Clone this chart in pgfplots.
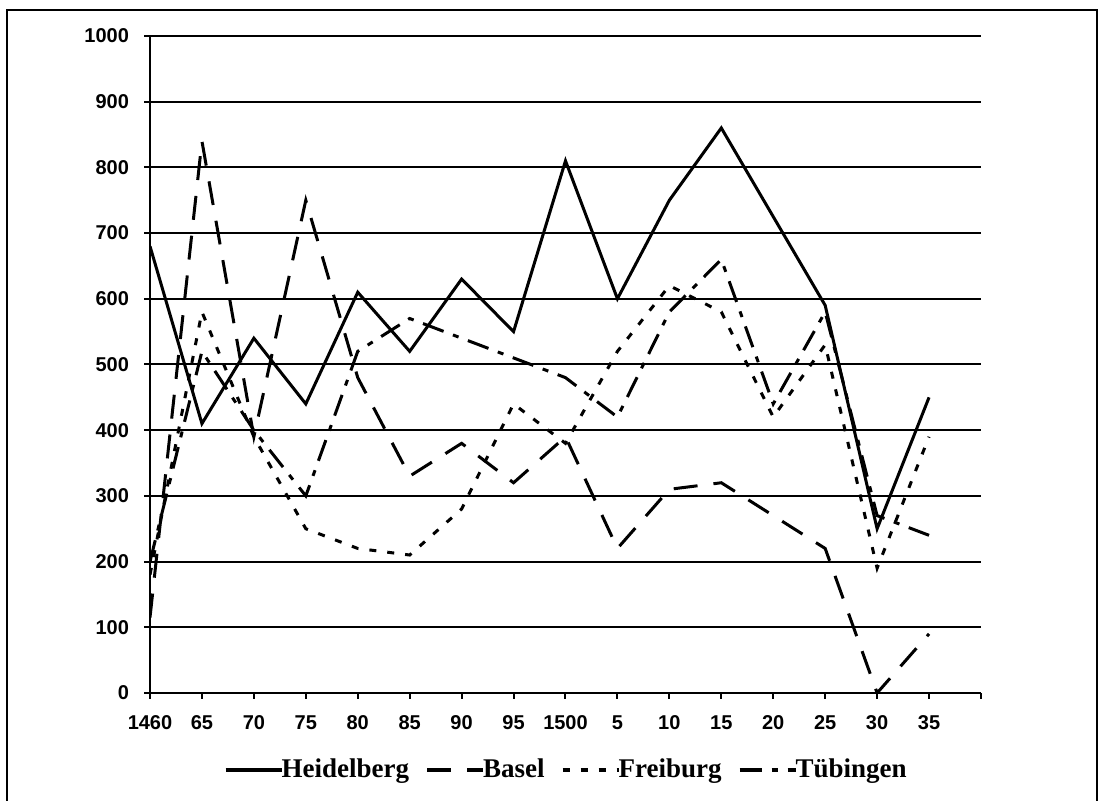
\documentclass[border=0pt]{standalone}
\usepackage{fontspec}
\setmainfont{Liberation Serif}
\setsansfont{Liberation Sans}
\usepackage{pgfplots}
\pgfplotsset{compat=1.18}
\begin{document}
\begin{tikzpicture}
\path[use as bounding box] (-75pt,-54pt) rectangle (475.5pt,346.5pt);
\draw[line width=1pt] (-71.5pt,-60pt) -- (-71.5pt,341.5pt) -- (473.5pt,341.5pt) -- (473.5pt,-60pt);
\begin{axis}[
  at={(0pt,0pt)}, anchor=south west,
  scale only axis, width=415.5pt, height=328.5pt,
  xmin=1460, xmax=1540, ymin=0, ymax=1000,
  axis x line*=bottom, axis y line*=left,
  axis line style={line width=1pt, -},
  xtick={1460,1465,...,1540},
  xticklabels={1460,65,70,75,80,85,90,95,1500,5,10,15,20,25,30,35,{}},
  ytick={0,100,...,1000},
  yticklabel style={/pgf/number format/1000 sep={}, xshift=-4pt},
  tick align=outside, major tick length=3pt,
  tick style={line width=1pt, black},
  ymajorgrids, grid style={line width=1pt, black},
  /pgf/number format/assume math mode=true,
  ticklabel style={font=\sffamily\bfseries\fontsize{10}{11}\selectfont},
  xticklabel style={yshift=-4pt, text height=7.5pt, text depth=0pt},
  legend columns=4,
  legend style={draw=none, at={(0.502,-0.117)}, anchor=center,
    font=\bfseries\fontsize{13.5}{15}\selectfont,
    /tikz/every even column/.append style={column sep=6pt},
    /tikz/every odd column/.append style={column sep=-3pt}},
  legend image code/.code={\draw[#1, line width=2pt] (0pt,0pt) -- (28pt,0pt);},
]
\addplot[black, line width=1.5pt] coordinates {
(1460,680) (1465,410) (1470,540) (1475,440) (1480,610) (1485,520) (1490,630) (1495,550)
(1500,810) (1505,600) (1510,750) (1515,860) (1520,725) (1525,590) (1530,250) (1535,450)};
\addlegendentry{Heidelberg}
\addplot[black, line width=1.5pt, dash pattern=on 12pt off 8pt] coordinates {
(1460,115) (1465,840) (1470,390) (1475,750) (1480,480) (1485,330) (1490,380) (1495,320)
(1500,390) (1505,220) (1510,310) (1515,320) (1520,270) (1525,220) (1530,0) (1535,90)};
\addlegendentry{Basel}
\addplot[black, line width=1.5pt, dash pattern=on 3.5pt off 5.5pt] coordinates {
(1460,180) (1465,580) (1470,390) (1475,250) (1480,220) (1485,210) (1490,280) (1495,440)
(1500,380) (1505,520) (1510,620) (1515,580) (1520,420) (1525,530) (1530,190) (1535,390)};
\addlegendentry{Freiburg}
\addplot[black, line width=1.5pt, dash pattern=on 11pt off 5pt on 3pt off 5pt] coordinates {
(1460,200) (1465,520) (1470,400) (1475,300) (1480,520) (1485,570) (1490,540) (1495,510)
(1500,480) (1505,420) (1510,580) (1515,660) (1520,440) (1525,580) (1530,270) (1535,240)};
\addlegendentry{Tübingen}
\end{axis}
\end{tikzpicture}
\end{document}
